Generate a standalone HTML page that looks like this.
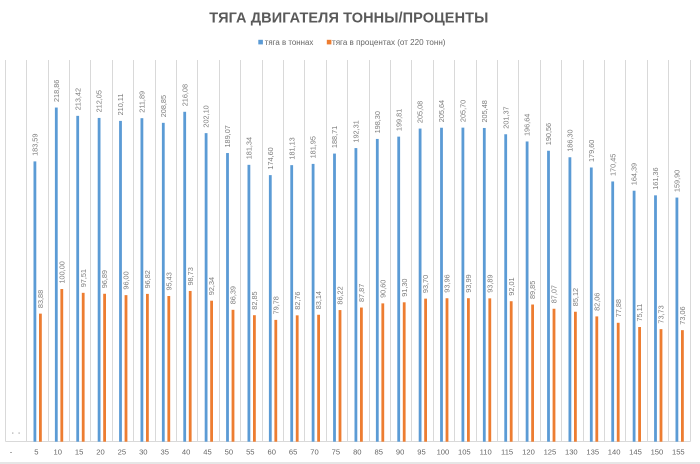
<!DOCTYPE html>
<html><head><meta charset="utf-8"><style>
html,body{margin:0;padding:0;background:#fff;width:700px;height:464px;overflow:hidden}
svg{display:block}
.l{font-family:"Liberation Sans",sans-serif;font-size:7.3px;fill:#7c7c7c}
.x{font-family:"Liberation Sans",sans-serif;font-size:7.6px;fill:#666;text-anchor:middle}
.b{fill:#5b9bd5}.o{fill:#ed7d31}
</style></head><body>
<svg width="700" height="464" viewBox="0 0 700 464" xmlns="http://www.w3.org/2000/svg">
<rect width="700" height="464" fill="#fff"/>
<text x="348.8" y="22.3" font-family="Liberation Sans,sans-serif" font-weight="bold" font-size="14.5" fill="#595959" text-anchor="middle" textLength="279" lengthAdjust="spacing">ТЯГА ДВИГАТЕЛЯ ТОННЫ/ПРОЦЕНТЫ</text>
<rect x="258.3" y="39.8" width="4.6" height="4.6" fill="#5b9bd5"/>
<text x="264.8" y="45" font-family="Liberation Sans,sans-serif" font-size="8" fill="#666" textLength="48.5" lengthAdjust="spacingAndGlyphs">тяга в тоннах</text>
<rect x="326.8" y="39.8" width="4.6" height="4.6" fill="#ed7d31"/>
<text x="332" y="45" font-family="Liberation Sans,sans-serif" font-size="8" fill="#666" textLength="113.5" lengthAdjust="spacingAndGlyphs">тяга в процентах (от 220 тонн)</text>
<g stroke="#d9d9d9" stroke-width="1" fill="none">
<path d="M5.5 60V441.5M26.5 60V441.5M48.5 60V441.5M69.5 60V441.5M90.5 60V441.5M112.5 60V441.5M133.5 60V441.5M155.5 60V441.5M176.5 60V441.5M197.5 60V441.5M219.5 60V441.5M240.5 60V441.5M262.5 60V441.5M283.5 60V441.5M304.5 60V441.5M326.5 60V441.5M347.5 60V441.5M369.5 60V441.5M390.5 60V441.5M411.5 60V441.5M433.5 60V441.5M454.5 60V441.5M476.5 60V441.5M497.5 60V441.5M518.5 60V441.5M540.5 60V441.5M561.5 60V441.5M583.5 60V441.5M604.5 60V441.5M625.5 60V441.5M647.5 60V441.5M668.5 60V441.5M690.5 60V441.5"/>
<path d="M5.5 441.5H690.5"/>
</g>
<rect x="0" y="462" width="700" height="2" fill="#e6e6e6"/>
<rect x="12.3" y="432.3" width="1" height="1.6" fill="#aaa"/>
<rect x="18.6" y="432.3" width="1" height="1.6" fill="#aaa"/>
<text class="x" x="11" y="454.4">-</text>

<g transform="translate(37.3,0)"><rect class="b" x="-3.8" y="161.40" width="2.8" height="280.30"/><rect class="o" x="1.7" y="313.63" width="2.8" height="128.07"/><text class="l" transform="translate(-2.4,155.9) rotate(-90)" dy=".35em">183,59</text><text class="l" transform="translate(3.1,308.1) rotate(-90)" dy=".35em">83,88</text><text class="x" x="-1" y="454.4">5</text></g>
<g transform="translate(58.7,0)"><rect class="b" x="-3.8" y="107.55" width="2.8" height="334.15"/><rect class="o" x="1.7" y="289.02" width="2.8" height="152.68"/><text class="l" transform="translate(-2.4,102.0) rotate(-90)" dy=".35em">218,86</text><text class="l" transform="translate(3.1,283.5) rotate(-90)" dy=".35em">100,00</text><text class="x" x="-1" y="454.4">10</text></g>
<g transform="translate(80.1,0)"><rect class="b" x="-3.8" y="115.85" width="2.8" height="325.85"/><rect class="o" x="1.7" y="292.82" width="2.8" height="148.88"/><text class="l" transform="translate(-2.4,110.3) rotate(-90)" dy=".35em">213,42</text><text class="l" transform="translate(3.1,287.3) rotate(-90)" dy=".35em">97,51</text><text class="x" x="-1" y="454.4">15</text></g>
<g transform="translate(101.5,0)"><rect class="b" x="-3.8" y="117.94" width="2.8" height="323.76"/><rect class="o" x="1.7" y="293.77" width="2.8" height="147.93"/><text class="l" transform="translate(-2.4,112.4) rotate(-90)" dy=".35em">212,05</text><text class="l" transform="translate(3.1,288.3) rotate(-90)" dy=".35em">96,89</text><text class="x" x="-1" y="454.4">20</text></g>
<g transform="translate(122.9,0)"><rect class="b" x="-3.8" y="120.90" width="2.8" height="320.80"/><rect class="o" x="1.7" y="295.13" width="2.8" height="146.57"/><text class="l" transform="translate(-2.4,115.4) rotate(-90)" dy=".35em">210,11</text><text class="l" transform="translate(3.1,289.6) rotate(-90)" dy=".35em">96,00</text><text class="x" x="-1" y="454.4">25</text></g>
<g transform="translate(144.3,0)"><rect class="b" x="-3.8" y="118.19" width="2.8" height="323.51"/><rect class="o" x="1.7" y="293.88" width="2.8" height="147.82"/><text class="l" transform="translate(-2.4,112.7) rotate(-90)" dy=".35em">211,89</text><text class="l" transform="translate(3.1,288.4) rotate(-90)" dy=".35em">96,82</text><text class="x" x="-1" y="454.4">30</text></g>
<g transform="translate(165.7,0)"><rect class="b" x="-3.8" y="122.83" width="2.8" height="318.87"/><rect class="o" x="1.7" y="296.00" width="2.8" height="145.70"/><text class="l" transform="translate(-2.4,117.3) rotate(-90)" dy=".35em">208,85</text><text class="l" transform="translate(3.1,290.5) rotate(-90)" dy=".35em">95,43</text><text class="x" x="-1" y="454.4">35</text></g>
<g transform="translate(187.1,0)"><rect class="b" x="-3.8" y="111.79" width="2.8" height="329.91"/><rect class="o" x="1.7" y="290.96" width="2.8" height="150.74"/><text class="l" transform="translate(-2.4,106.3) rotate(-90)" dy=".35em">216,08</text><text class="l" transform="translate(3.1,285.5) rotate(-90)" dy=".35em">98,73</text><text class="x" x="-1" y="454.4">40</text></g>
<g transform="translate(208.5,0)"><rect class="b" x="-3.8" y="133.13" width="2.8" height="308.57"/><rect class="o" x="1.7" y="300.71" width="2.8" height="140.99"/><text class="l" transform="translate(-2.4,127.6) rotate(-90)" dy=".35em">202,10</text><text class="l" transform="translate(3.1,295.2) rotate(-90)" dy=".35em">92,34</text><text class="x" x="-1" y="454.4">45</text></g>
<g transform="translate(229.9,0)"><rect class="b" x="-3.8" y="153.03" width="2.8" height="288.67"/><rect class="o" x="1.7" y="309.80" width="2.8" height="131.90"/><text class="l" transform="translate(-2.4,147.5) rotate(-90)" dy=".35em">189,07</text><text class="l" transform="translate(3.1,304.3) rotate(-90)" dy=".35em">86,39</text><text class="x" x="-1" y="454.4">50</text></g>
<g transform="translate(251.3,0)"><rect class="b" x="-3.8" y="164.83" width="2.8" height="276.87"/><rect class="o" x="1.7" y="315.20" width="2.8" height="126.50"/><text class="l" transform="translate(-2.4,159.3) rotate(-90)" dy=".35em">181,34</text><text class="l" transform="translate(3.1,309.7) rotate(-90)" dy=".35em">82,85</text><text class="x" x="-1" y="454.4">55</text></g>
<g transform="translate(272.7,0)"><rect class="b" x="-3.8" y="175.12" width="2.8" height="266.58"/><rect class="o" x="1.7" y="319.89" width="2.8" height="121.81"/><text class="l" transform="translate(-2.4,169.6) rotate(-90)" dy=".35em">174,60</text><text class="l" transform="translate(3.1,314.4) rotate(-90)" dy=".35em">79,78</text><text class="x" x="-1" y="454.4">60</text></g>
<g transform="translate(294.1,0)"><rect class="b" x="-3.8" y="165.15" width="2.8" height="276.55"/><rect class="o" x="1.7" y="315.34" width="2.8" height="126.36"/><text class="l" transform="translate(-2.4,159.6) rotate(-90)" dy=".35em">181,13</text><text class="l" transform="translate(3.1,309.8) rotate(-90)" dy=".35em">82,76</text><text class="x" x="-1" y="454.4">65</text></g>
<g transform="translate(315.5,0)"><rect class="b" x="-3.8" y="163.90" width="2.8" height="277.80"/><rect class="o" x="1.7" y="314.76" width="2.8" height="126.94"/><text class="l" transform="translate(-2.4,158.4) rotate(-90)" dy=".35em">181,95</text><text class="l" transform="translate(3.1,309.3) rotate(-90)" dy=".35em">83,14</text><text class="x" x="-1" y="454.4">70</text></g>
<g transform="translate(336.9,0)"><rect class="b" x="-3.8" y="153.58" width="2.8" height="288.12"/><rect class="o" x="1.7" y="310.06" width="2.8" height="131.64"/><text class="l" transform="translate(-2.4,148.1) rotate(-90)" dy=".35em">188,71</text><text class="l" transform="translate(3.1,304.6) rotate(-90)" dy=".35em">86,22</text><text class="x" x="-1" y="454.4">75</text></g>
<g transform="translate(358.3,0)"><rect class="b" x="-3.8" y="148.08" width="2.8" height="293.62"/><rect class="o" x="1.7" y="307.54" width="2.8" height="134.16"/><text class="l" transform="translate(-2.4,142.6) rotate(-90)" dy=".35em">192,31</text><text class="l" transform="translate(3.1,302.0) rotate(-90)" dy=".35em">87,87</text><text class="x" x="-1" y="454.4">80</text></g>
<g transform="translate(379.7,0)"><rect class="b" x="-3.8" y="138.93" width="2.8" height="302.77"/><rect class="o" x="1.7" y="303.37" width="2.8" height="138.33"/><text class="l" transform="translate(-2.4,133.4) rotate(-90)" dy=".35em">198,30</text><text class="l" transform="translate(3.1,297.9) rotate(-90)" dy=".35em">90,60</text><text class="x" x="-1" y="454.4">85</text></g>
<g transform="translate(401.1,0)"><rect class="b" x="-3.8" y="136.63" width="2.8" height="305.07"/><rect class="o" x="1.7" y="302.30" width="2.8" height="139.40"/><text class="l" transform="translate(-2.4,131.1) rotate(-90)" dy=".35em">199,81</text><text class="l" transform="translate(3.1,296.8) rotate(-90)" dy=".35em">91,30</text><text class="x" x="-1" y="454.4">90</text></g>
<g transform="translate(422.5,0)"><rect class="b" x="-3.8" y="128.58" width="2.8" height="313.12"/><rect class="o" x="1.7" y="298.64" width="2.8" height="143.06"/><text class="l" transform="translate(-2.4,123.1) rotate(-90)" dy=".35em">205,08</text><text class="l" transform="translate(3.1,293.1) rotate(-90)" dy=".35em">93,70</text><text class="x" x="-1" y="454.4">95</text></g>
<g transform="translate(443.9,0)"><rect class="b" x="-3.8" y="127.73" width="2.8" height="313.97"/><rect class="o" x="1.7" y="298.24" width="2.8" height="143.46"/><text class="l" transform="translate(-2.4,122.2) rotate(-90)" dy=".35em">205,64</text><text class="l" transform="translate(3.1,292.7) rotate(-90)" dy=".35em">93,96</text><text class="x" x="-1" y="454.4">100</text></g>
<g transform="translate(465.3,0)"><rect class="b" x="-3.8" y="127.64" width="2.8" height="314.06"/><rect class="o" x="1.7" y="298.20" width="2.8" height="143.50"/><text class="l" transform="translate(-2.4,122.1) rotate(-90)" dy=".35em">205,70</text><text class="l" transform="translate(3.1,292.7) rotate(-90)" dy=".35em">93,99</text><text class="x" x="-1" y="454.4">105</text></g>
<g transform="translate(486.7,0)"><rect class="b" x="-3.8" y="127.97" width="2.8" height="313.73"/><rect class="o" x="1.7" y="298.35" width="2.8" height="143.35"/><text class="l" transform="translate(-2.4,122.5) rotate(-90)" dy=".35em">205,48</text><text class="l" transform="translate(3.1,292.8) rotate(-90)" dy=".35em">93,89</text><text class="x" x="-1" y="454.4">110</text></g>
<g transform="translate(508.1,0)"><rect class="b" x="-3.8" y="134.25" width="2.8" height="307.45"/><rect class="o" x="1.7" y="301.22" width="2.8" height="140.48"/><text class="l" transform="translate(-2.4,128.7) rotate(-90)" dy=".35em">201,37</text><text class="l" transform="translate(3.1,295.7) rotate(-90)" dy=".35em">92,01</text><text class="x" x="-1" y="454.4">115</text></g>
<g transform="translate(529.5,0)"><rect class="b" x="-3.8" y="141.47" width="2.8" height="300.23"/><rect class="o" x="1.7" y="304.52" width="2.8" height="137.18"/><text class="l" transform="translate(-2.4,136.0) rotate(-90)" dy=".35em">196,64</text><text class="l" transform="translate(3.1,299.0) rotate(-90)" dy=".35em">89,85</text><text class="x" x="-1" y="454.4">120</text></g>
<g transform="translate(550.9,0)"><rect class="b" x="-3.8" y="150.75" width="2.8" height="290.95"/><rect class="o" x="1.7" y="308.76" width="2.8" height="132.94"/><text class="l" transform="translate(-2.4,145.2) rotate(-90)" dy=".35em">190,56</text><text class="l" transform="translate(3.1,303.3) rotate(-90)" dy=".35em">87,07</text><text class="x" x="-1" y="454.4">125</text></g>
<g transform="translate(572.3,0)"><rect class="b" x="-3.8" y="157.26" width="2.8" height="284.44"/><rect class="o" x="1.7" y="311.74" width="2.8" height="129.96"/><text class="l" transform="translate(-2.4,151.8) rotate(-90)" dy=".35em">186,30</text><text class="l" transform="translate(3.1,306.2) rotate(-90)" dy=".35em">85,12</text><text class="x" x="-1" y="454.4">130</text></g>
<g transform="translate(593.7,0)"><rect class="b" x="-3.8" y="167.49" width="2.8" height="274.21"/><rect class="o" x="1.7" y="316.41" width="2.8" height="125.29"/><text class="l" transform="translate(-2.4,162.0) rotate(-90)" dy=".35em">179,60</text><text class="l" transform="translate(3.1,310.9) rotate(-90)" dy=".35em">82,06</text><text class="x" x="-1" y="454.4">135</text></g>
<g transform="translate(615.1,0)"><rect class="b" x="-3.8" y="181.46" width="2.8" height="260.24"/><rect class="o" x="1.7" y="322.79" width="2.8" height="118.91"/><text class="l" transform="translate(-2.4,176.0) rotate(-90)" dy=".35em">170,45</text><text class="l" transform="translate(3.1,317.3) rotate(-90)" dy=".35em">77,88</text><text class="x" x="-1" y="454.4">140</text></g>
<g transform="translate(636.5,0)"><rect class="b" x="-3.8" y="190.71" width="2.8" height="250.99"/><rect class="o" x="1.7" y="327.02" width="2.8" height="114.68"/><text class="l" transform="translate(-2.4,185.2) rotate(-90)" dy=".35em">164,39</text><text class="l" transform="translate(3.1,321.5) rotate(-90)" dy=".35em">75,11</text><text class="x" x="-1" y="454.4">145</text></g>
<g transform="translate(657.9,0)"><rect class="b" x="-3.8" y="195.34" width="2.8" height="246.36"/><rect class="o" x="1.7" y="329.13" width="2.8" height="112.57"/><text class="l" transform="translate(-2.4,189.8) rotate(-90)" dy=".35em">161,36</text><text class="l" transform="translate(3.1,323.6) rotate(-90)" dy=".35em">73,73</text><text class="x" x="-1" y="454.4">150</text></g>
<g transform="translate(679.3,0)"><rect class="b" x="-3.8" y="197.57" width="2.8" height="244.13"/><rect class="o" x="1.7" y="330.15" width="2.8" height="111.55"/><text class="l" transform="translate(-2.4,192.1) rotate(-90)" dy=".35em">159,90</text><text class="l" transform="translate(3.1,324.7) rotate(-90)" dy=".35em">73,06</text><text class="x" x="-1" y="454.4">155</text></g>
</svg>
</body></html>
